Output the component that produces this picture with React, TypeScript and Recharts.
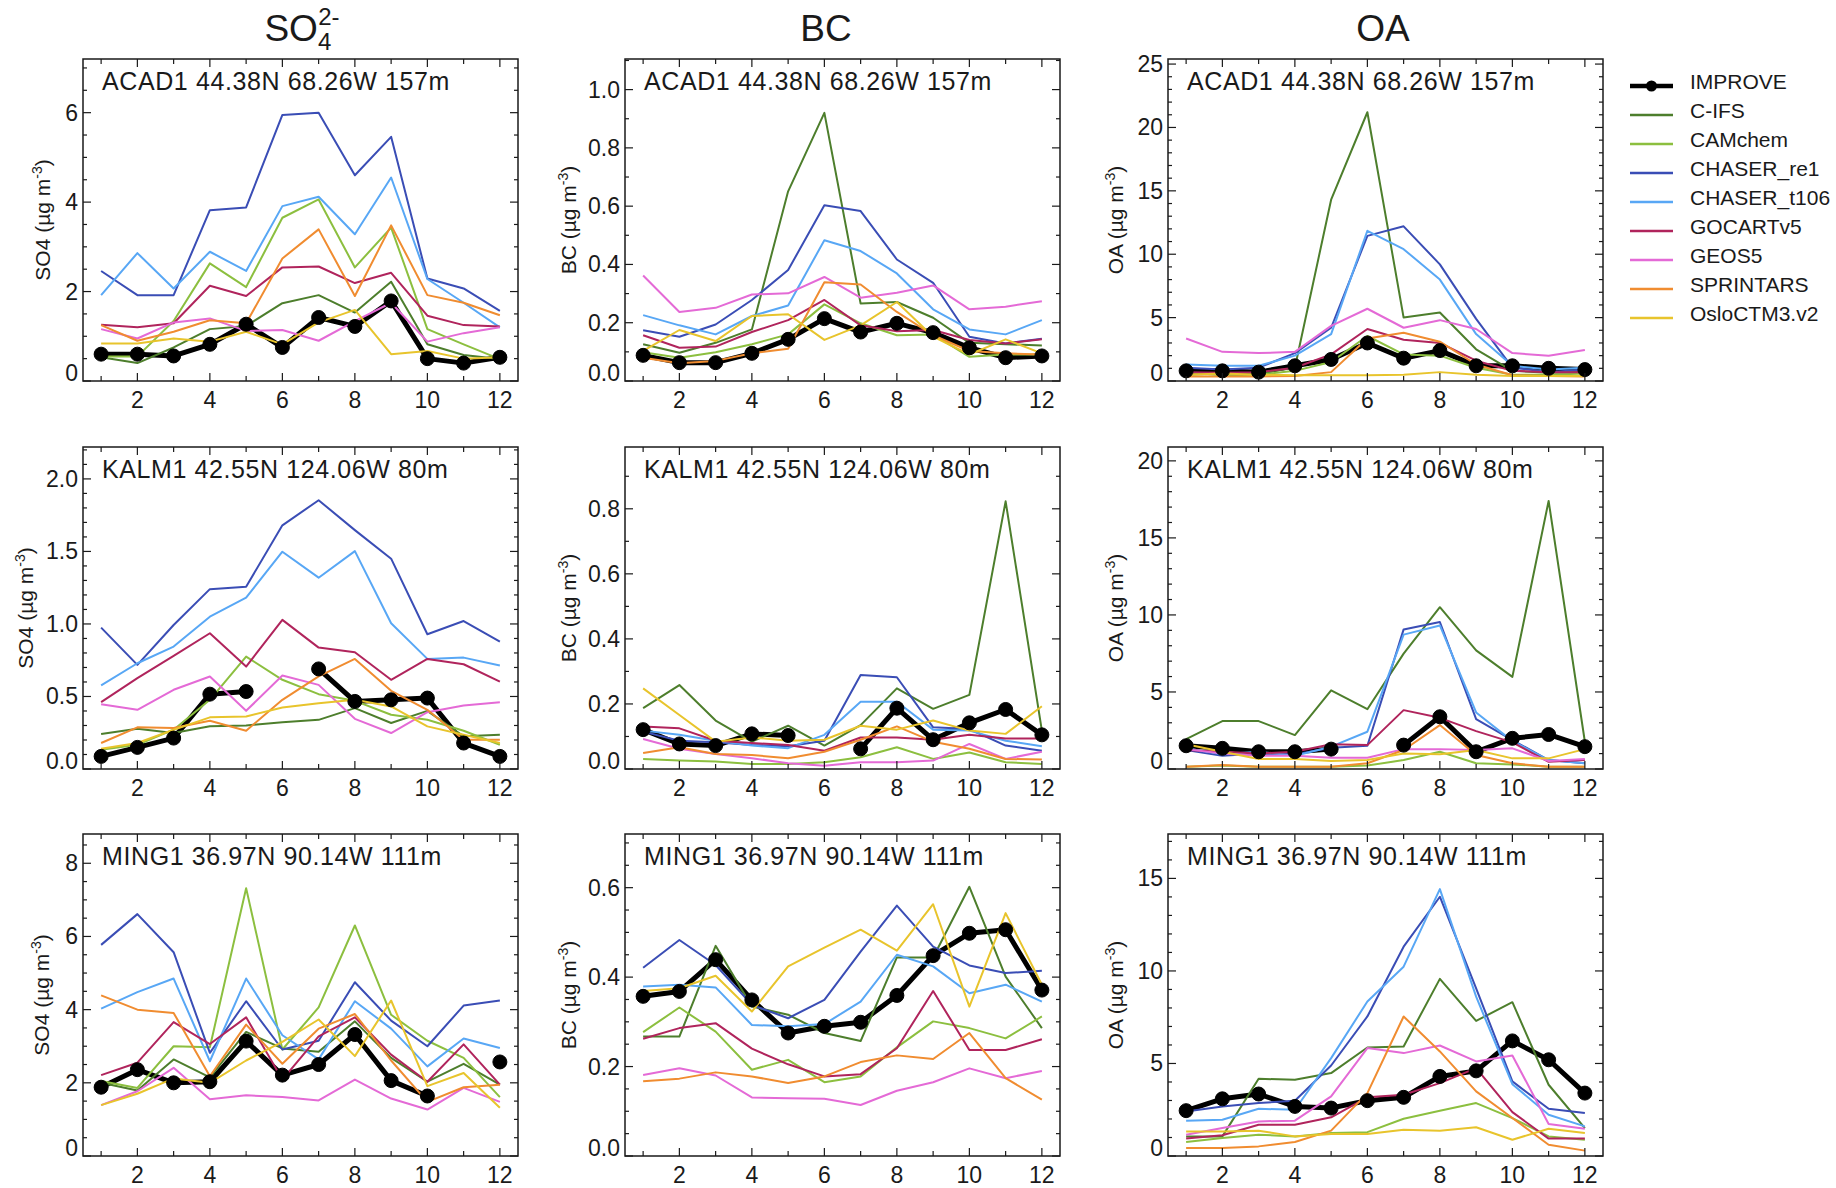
import React from "react";
import { LineChart, Line, XAxis, YAxis, ReferenceArea, Legend } from "recharts";

const MONTHS = [1, 2, 3, 4, 5, 6, 7, 8, 9, 10, 11, 12];

const SERIES = ["IMPROVE", "C-IFS", "CAMchem", "CHASER_re1", "CHASER_t106", "GOCARTv5", "GEOS5", "SPRINTARS", "OsloCTM3.v2"];
const COLORS = ["#000000", "#4d7e2c", "#8cbf3f", "#3a4db5", "#58a7f5", "#b0245c", "#e46ad6", "#f08c30", "#e8c42c"];

type Station = Record<string, (number | null)[]>;

const ACAD1_SO4: Station = {
  IMPROVE: [0.6, 0.6, 0.56, 0.82, 1.27, 0.75, 1.42, 1.22, 1.79, 0.5, 0.4, 0.53],
  "C-IFS": [0.53, 0.4, 0.75, 1.16, 1.23, 1.74, 1.92, 1.53, 2.22, 0.82, 0.58, 0.49],
  CAMchem: [0.55, 0.55, 1.34, 2.63, 2.1, 3.65, 4.06, 2.54, 3.43, 1.16, 0.82, 0.49],
  CHASER_re1: [2.46, 1.92, 1.92, 3.82, 3.88, 5.95, 6.0, 4.6, 5.46, 2.29, 2.07, 1.57],
  CHASER_t106: [1.92, 2.86, 2.07, 2.89, 2.46, 3.91, 4.12, 3.28, 4.55, 2.28, 1.75, 1.2],
  GOCARTv5: [1.26, 1.2, 1.29, 2.13, 1.9, 2.54, 2.56, 2.19, 2.42, 1.46, 1.25, 1.22],
  GEOS5: [1.16, 0.95, 1.31, 1.4, 1.12, 1.14, 0.9, 1.34, 1.75, 0.88, 1.07, 1.2],
  SPRINTARS: [1.25, 0.9, 1.1, 1.36, 1.29, 2.74, 3.39, 1.9, 3.48, 1.92, 1.75, 1.47],
  "OsloCTM3.v2": [0.84, 0.84, 0.95, 0.88, 1.1, 0.82, 1.31, 1.59, 0.6, 0.67, 0.5, 0.53],
};

const ACAD1_BC: Station = {
  IMPROVE: [0.088, 0.063, 0.063, 0.095, 0.143, 0.214, 0.168, 0.198, 0.166, 0.114, 0.08, 0.086],
  "C-IFS": [0.126, 0.097, 0.131, 0.177, 0.651, 0.92, 0.266, 0.271, 0.217, 0.131, 0.126, 0.122],
  CAMchem: [0.099, 0.08, 0.099, 0.126, 0.16, 0.263, 0.198, 0.157, 0.16, 0.083, 0.091, 0.091],
  CHASER_re1: [0.174, 0.152, 0.194, 0.278, 0.381, 0.603, 0.583, 0.417, 0.337, 0.152, 0.129, 0.145],
  CHASER_t106: [0.226, 0.191, 0.16, 0.223, 0.259, 0.483, 0.446, 0.369, 0.246, 0.177, 0.16, 0.209],
  GOCARTv5: [0.157, 0.114, 0.118, 0.168, 0.209, 0.278, 0.191, 0.171, 0.175, 0.141, 0.129, 0.143],
  GEOS5: [0.362, 0.237, 0.251, 0.297, 0.301, 0.357, 0.286, 0.303, 0.328, 0.246, 0.255, 0.274],
  SPRINTARS: [0.08, 0.061, 0.069, 0.095, 0.111, 0.339, 0.331, 0.237, 0.157, 0.103, 0.095, 0.091],
  "OsloCTM3.v2": [0.103, 0.175, 0.137, 0.223, 0.229, 0.141, 0.191, 0.271, 0.152, 0.091, 0.143, 0.095],
};

const ACAD1_OA: Station = {
  IMPROVE: [0.8, 0.8, 0.7, 1.2, 1.7, 3.0, 1.8, 2.4, 1.2, 1.2, 1.0, 0.9],
  "C-IFS": [0.5, 0.6, 0.6, 1.05, 14.3, 21.2, 5.0, 5.4, 2.5, 0.8, 0.65, 0.7],
  CAMchem: [0.65, 0.45, 0.5, 0.8, 1.5, 3.55, 2.1, 2.0, 1.05, 0.5, 0.5, 0.6],
  CHASER_re1: [1.05, 0.9, 1.05, 2.2, 4.2, 11.45, 12.2, 9.2, 4.9, 1.05, 0.7, 0.9],
  CHASER_t106: [1.3, 1.2, 1.2, 2.0, 3.7, 11.85, 10.4, 8.0, 3.7, 1.2, 0.9, 1.05],
  GOCARTv5: [0.7, 0.65, 0.7, 1.05, 2.1, 4.1, 3.25, 3.0, 1.6, 0.8, 0.7, 0.7],
  GEOS5: [3.35, 2.3, 2.2, 2.3, 4.35, 5.7, 4.2, 4.8, 4.1, 2.2, 2.0, 2.45],
  SPRINTARS: [0.35, 0.35, 0.35, 0.4, 0.7, 3.35, 3.8, 3.1, 1.3, 0.45, 0.4, 0.35],
  "OsloCTM3.v2": [0.5, 0.6, 0.5, 0.45, 0.45, 0.45, 0.5, 0.7, 0.5, 0.4, 0.4, 0.4],
};

const KALM1_SO4: Station = {
  IMPROVE: [0.087, 0.149, 0.213, 0.516, 0.534, null, 0.69, 0.466, 0.477, 0.489, 0.179, 0.087],
  "C-IFS": [0.241, 0.278, 0.248, 0.294, 0.3, 0.323, 0.339, 0.42, 0.317, 0.401, 0.225, 0.236],
  CAMchem: [0.133, 0.167, 0.271, 0.477, 0.775, 0.615, 0.516, 0.47, 0.374, 0.339, 0.264, 0.167],
  CHASER_re1: [0.975, 0.718, 0.993, 1.24, 1.257, 1.68, 1.853, 1.647, 1.45, 0.929, 1.02, 0.878],
  CHASER_t106: [0.576, 0.729, 0.844, 1.05, 1.181, 1.498, 1.319, 1.502, 1.005, 0.759, 0.768, 0.713],
  GOCARTv5: [0.461, 0.626, 0.78, 0.936, 0.706, 1.028, 0.837, 0.805, 0.615, 0.759, 0.722, 0.603],
  GEOS5: [0.447, 0.408, 0.546, 0.638, 0.401, 0.644, 0.58, 0.346, 0.248, 0.392, 0.438, 0.461],
  SPRINTARS: [0.179, 0.287, 0.282, 0.333, 0.264, 0.477, 0.638, 0.759, 0.539, 0.408, 0.202, 0.202],
  "OsloCTM3.v2": [0.14, 0.179, 0.271, 0.356, 0.362, 0.424, 0.454, 0.477, 0.431, 0.294, 0.236, 0.179],
};

const KALM1_BC: Station = {
  IMPROVE: [0.121, 0.077, 0.072, 0.108, 0.103, null, 0.062, 0.187, 0.09, 0.142, 0.183, 0.105],
  "C-IFS": [0.187, 0.258, 0.149, 0.084, 0.133, 0.072, 0.135, 0.248, 0.185, 0.228, 0.823, 0.118],
  CAMchem: [0.031, 0.026, 0.023, 0.015, 0.015, 0.021, 0.036, 0.067, 0.031, 0.051, 0.021, 0.015],
  CHASER_re1: [0.115, 0.087, 0.082, 0.074, 0.07, 0.087, 0.289, 0.282, 0.128, 0.123, 0.072, 0.056],
  CHASER_t106: [0.118, 0.105, 0.087, 0.072, 0.064, 0.105, 0.207, 0.207, 0.121, 0.118, 0.087, 0.07],
  GOCARTv5: [0.131, 0.125, 0.087, 0.08, 0.074, 0.056, 0.097, 0.097, 0.09, 0.105, 0.094, 0.094],
  GEOS5: [0.092, 0.062, 0.046, 0.033, 0.018, 0.01, 0.021, 0.021, 0.026, 0.077, 0.031, 0.053],
  SPRINTARS: [0.049, 0.067, 0.046, 0.043, 0.033, 0.053, 0.09, 0.131, 0.084, 0.062, 0.031, 0.029],
  "OsloCTM3.v2": [0.248, 0.166, 0.084, 0.097, 0.087, 0.09, 0.133, 0.121, 0.149, 0.118, 0.108, 0.193],
};

const KALM1_OA: Station = {
  IMPROVE: [1.51, 1.34, 1.12, 1.12, 1.29, null, 1.55, 3.39, 1.12, 1.99, 2.24, 1.45],
  "C-IFS": [1.94, 3.11, 3.11, 2.2, 5.11, 3.88, 7.49, 10.5, 7.7, 5.98, 17.4, 1.77],
  CAMchem: [0.15, 0.22, 0.15, 0.15, 0.15, 0.22, 0.58, 1.12, 0.37, 0.3, 0.15, 0.15],
  CHASER_re1: [1.23, 0.86, 1.01, 0.95, 1.38, 1.51, 9.06, 9.54, 3.24, 1.88, 0.58, 0.37],
  CHASER_t106: [1.34, 0.95, 1.12, 0.86, 1.45, 2.42, 8.72, 9.32, 3.67, 1.81, 0.58, 0.37],
  GOCARTv5: [1.23, 1.12, 1.01, 1.12, 1.6, 1.55, 3.82, 3.32, 2.46, 1.73, 0.47, 0.58],
  GEOS5: [1.29, 1.01, 0.86, 0.86, 0.73, 0.73, 1.29, 1.29, 1.23, 1.34, 0.52, 0.65],
  SPRINTARS: [0.15, 0.26, 0.15, 0.15, 0.15, 0.37, 1.23, 2.85, 0.91, 0.37, 0.15, 0.15],
  "OsloCTM3.v2": [1.6, 1.12, 0.65, 0.65, 0.52, 0.58, 1.01, 0.95, 1.23, 0.69, 0.69, 1.29],
};

const MING1_SO4: Station = {
  IMPROVE: [1.88, 2.36, 2.0, 2.03, 3.14, 2.21, 2.5, 3.32, 2.06, 1.64, null, 2.57],
  "C-IFS": [2.0, 1.79, 2.64, 2.15, 3.39, 2.94, 2.85, 3.68, 2.68, 2.03, 2.52, 1.95],
  CAMchem: [2.05, 1.86, 3.0, 2.97, 7.32, 2.91, 4.06, 6.3, 3.86, 3.15, 2.68, 1.61],
  CHASER_re1: [5.77, 6.61, 5.57, 2.82, 4.23, 2.91, 3.15, 4.75, 3.7, 3.0, 4.11, 4.25],
  CHASER_t106: [4.03, 4.48, 4.85, 2.59, 4.85, 3.3, 2.64, 4.23, 3.48, 2.45, 3.21, 2.95],
  GOCARTv5: [2.21, 2.55, 3.66, 3.06, 3.79, 2.09, 3.27, 3.79, 2.77, 2.03, 3.05, 1.95],
  GEOS5: [1.39, 1.77, 2.41, 1.55, 1.66, 1.61, 1.52, 2.09, 1.57, 1.27, 1.86, 1.48],
  SPRINTARS: [4.39, 4.0, 3.91, 2.18, 3.59, 2.52, 3.48, 3.88, 2.61, 1.48, 1.88, 1.95],
  "OsloCTM3.v2": [1.39, 1.7, 2.12, 2.0, 2.61, 3.12, 3.73, 2.73, 4.25, 1.91, 2.27, 1.32],
};

const MING1_BC: Station = {
  IMPROVE: [0.357, 0.368, 0.439, 0.349, 0.275, 0.29, 0.299, 0.359, 0.448, 0.498, 0.506, 0.371],
  "C-IFS": [0.267, 0.267, 0.47, 0.334, 0.316, 0.275, 0.257, 0.444, 0.444, 0.602, 0.401, 0.286],
  CAMchem: [0.277, 0.332, 0.278, 0.193, 0.215, 0.165, 0.178, 0.243, 0.301, 0.286, 0.263, 0.312],
  CHASER_re1: [0.421, 0.483, 0.427, 0.338, 0.308, 0.349, 0.457, 0.56, 0.468, 0.426, 0.409, 0.414],
  CHASER_t106: [0.379, 0.383, 0.377, 0.293, 0.29, 0.295, 0.345, 0.45, 0.424, 0.364, 0.383, 0.345],
  GOCARTv5: [0.262, 0.286, 0.297, 0.24, 0.205, 0.178, 0.183, 0.241, 0.369, 0.237, 0.237, 0.261],
  GEOS5: [0.181, 0.196, 0.18, 0.131, 0.129, 0.128, 0.114, 0.146, 0.165, 0.196, 0.174, 0.19],
  SPRINTARS: [0.167, 0.173, 0.187, 0.178, 0.163, 0.178, 0.21, 0.225, 0.217, 0.275, 0.174, 0.126],
  "OsloCTM3.v2": [0.369, 0.375, 0.403, 0.323, 0.424, 0.466, 0.506, 0.459, 0.563, 0.334, 0.543, 0.383],
};

const MING1_OA: Station = {
  IMPROVE: [2.45, 3.09, 3.35, 2.68, 2.59, 2.99, 3.17, 4.3, 4.6, 6.22, 5.2, 3.4],
  "C-IFS": [1.06, 1.06, 4.17, 4.12, 4.48, 5.86, 5.92, 9.57, 7.3, 8.31, 3.85, 1.51],
  CAMchem: [0.76, 0.97, 1.15, 1.06, 1.24, 1.29, 2.01, 2.45, 2.86, 2.05, 1.06, 0.88],
  CHASER_re1: [2.41, 2.68, 2.86, 2.99, 4.89, 7.54, 11.31, 14.01, 9.06, 4.03, 2.55, 2.32],
  CHASER_t106: [1.91, 1.96, 2.55, 2.5, 5.29, 8.35, 10.23, 14.42, 8.61, 3.88, 2.23, 1.6],
  GOCARTv5: [0.94, 1.12, 1.69, 1.69, 2.09, 3.17, 3.31, 3.94, 4.75, 2.37, 0.94, 0.94],
  GEOS5: [1.15, 1.51, 1.87, 1.91, 3.22, 5.83, 5.56, 5.97, 5.11, 5.43, 1.73, 1.47],
  SPRINTARS: [0.43, 0.43, 0.52, 0.76, 1.37, 3.4, 7.54, 5.65, 3.49, 2.05, 0.61, 0.29],
  "OsloCTM3.v2": [1.33, 1.33, 1.37, 1.06, 1.19, 1.19, 1.42, 1.37, 1.55, 0.88, 1.47, 1.24],
};

const SITES = ["ACAD1 44.38N 68.26W 157m", "KALM1 42.55N 124.06W 80m", "MING1 36.97N 90.14W 111m"];
const SPECIES = ["SO4", "BC", "OA"];

const FONT = "'Liberation Sans', Arial, Helvetica, sans-serif";
const INK = "#1a1a1a";
const PLOT_LEFT = [83, 625, 1168];
const PLOT_TOP = [59, 447, 834];
const PLOT_W = 435;
const PLOT_H = 322;
const Y_AXIS_W = 80;
const X_AXIS_H = 45;
const RIGHT_PAD = 3;

const PANELS = [
  { data: ACAD1_SO4, row: 0, col: 0, ymax: 7.2, major: 2, minor: 0.5, dec: 0, labelOff: 41 },
  { data: ACAD1_BC, row: 0, col: 1, ymax: 1.105, major: 0.2, minor: 0.1, dec: 1, labelOff: 57 },
  { data: ACAD1_OA, row: 0, col: 2, ymax: 25.4, major: 5, minor: 1, dec: 0, labelOff: 53 },
  { data: KALM1_SO4, row: 1, col: 0, ymax: 2.22, major: 0.5, minor: 0.1, dec: 1, labelOff: 58 },
  { data: KALM1_BC, row: 1, col: 1, ymax: 0.99, major: 0.2, minor: 0.1, dec: 1, labelOff: 57 },
  { data: KALM1_OA, row: 1, col: 2, ymax: 20.9, major: 5, minor: 1, dec: 0, labelOff: 53 },
  { data: MING1_SO4, row: 2, col: 0, ymax: 8.8, major: 2, minor: 0.5, dec: 0, labelOff: 42 },
  { data: MING1_BC, row: 2, col: 1, ymax: 0.72, major: 0.2, minor: 0.05, dec: 1, labelOff: 57 },
  { data: MING1_OA, row: 2, col: 2, ymax: 17.4, major: 5, minor: 1, dec: 0, labelOff: 53 },
];

const HEADER_DX = [219, 201, 215];

function XTick(props: any) {
  const { x, y, payload } = props;
  const v = payload.value;
  const major = v % 2 === 0;
  const len = major ? 8 : 5;
  return (
    <g>
      <line x1={x} x2={x} y1={y} y2={y - len} stroke={INK} strokeWidth={1.2} />
      <line x1={x} x2={x} y1={y - PLOT_H} y2={y - PLOT_H + len} stroke={INK} strokeWidth={1.2} />
      {major && (
        <text x={x} y={y + 27} textAnchor="middle" fontSize={23} fontFamily={FONT} fill={INK}>
          {v}
        </text>
      )}
    </g>
  );
}

function YTick(props: any) {
  const { x, y, payload, spec } = props;
  const v = payload.value;
  const r = v / spec.major;
  const major = Math.abs(r - Math.round(r)) < 1e-6;
  const len = major ? 8 : 4;
  return (
    <g>
      <line x1={x} x2={x + len} y1={y} y2={y} stroke={INK} strokeWidth={1.2} />
      <line x1={x + PLOT_W} x2={x + PLOT_W - len} y1={y} y2={y} stroke={INK} strokeWidth={1.2} />
      {major && (
        <text x={x - 5} y={y + (v === 0 ? 0 : 8)} textAnchor="end" fontSize={23} fontFamily={FONT} fill={INK}>
          {v.toFixed(spec.dec)}
        </text>
      )}
    </g>
  );
}

function Header({ col, x, y }: { col: number; x: number; y: number }) {
  if (col === 0) {
    return (
      <text x={x} y={y} textAnchor="middle" fontSize={37} fontFamily={FONT} fill={INK}>
        SO
        <tspan dy={9} fontSize={24}>4</tspan>
        <tspan dx={-13} dy={-25} fontSize={24}>2-</tspan>
      </text>
    );
  }
  return (
    <text x={x} y={y} textAnchor="middle" fontSize={37} fontFamily={FONT} fill={INK}>
      {col === 1 ? "BC" : "OA"}
    </text>
  );
}

function PanelText(props: any) {
  const { viewBox, spec } = props;
  if (!viewBox) return null;
  const { x, y, height } = viewBox;
  const lx = x - spec.labelOff + 8;
  const ly = y + height / 2;
  return (
    <g>
      <text x={x + 19} y={y + 31} fontSize={25} letterSpacing={0.6} fontFamily={FONT} fill={INK}>
        {SITES[spec.row]}
      </text>
      <text transform={`translate(${lx},${ly}) rotate(-90)`} textAnchor="middle" fontSize={21} fontFamily={FONT} fill={INK}>
        {SPECIES[spec.col]} (µg m<tspan dy={-8} fontSize={14}>-3</tspan>
        <tspan dy={8}>)</tspan>
      </text>
      {spec.row === 0 && <Header col={spec.col} x={x + HEADER_DX[spec.col]} y={y - 18} />}
    </g>
  );
}

function LegendContent(props: any) {
  const items = [...(props.payload || [])].sort(
    (a: any, b: any) => SERIES.indexOf(a.value) - SERIES.indexOf(b.value)
  );
  return (
    <div>
      {items.map((it: any) => {
        const obs = it.value === "IMPROVE";
        return (
          <div key={it.value} style={{ display: "flex", alignItems: "center", height: 29 }}>
            <svg width={43} height={29} style={{ display: "block" }}>
              <line x1={0} x2={43} y1={19} y2={19} stroke={it.color} strokeWidth={obs ? 4.5 : 2.5} />
              {obs && <circle cx={21.5} cy={19} r={5.5} fill="#000" />}
            </svg>
            <span style={{ marginLeft: 17, fontSize: 21, fontFamily: FONT, color: INK, lineHeight: "29px", whiteSpace: "nowrap" }}>
              {it.value}
            </span>
          </div>
        );
      })}
    </div>
  );
}

function Panel({ spec }: { spec: any }) {
  const rows = MONTHS.map((m, i) => {
    const r: any = { month: m };
    SERIES.forEach((s) => (r[s] = spec.data[s][i]));
    return r;
  });
  const yTicks: number[] = [];
  for (let k = 0; k * spec.minor <= spec.ymax + 1e-9; k++) yTicks.push(+(k * spec.minor).toFixed(4));
  const marginTop = spec.row === 0 ? PLOT_TOP[0] : 4;
  const chartTop = PLOT_TOP[spec.row] - marginTop;
  const chartLeft = PLOT_LEFT[spec.col] - Y_AXIS_W;
  const w = Y_AXIS_W + PLOT_W + RIGHT_PAD;
  const h = marginTop + PLOT_H + X_AXIS_H;
  const withLegend = spec.row === 0 && spec.col === 2;

  return (
    <div style={{ position: "absolute", left: chartLeft, top: chartTop }}>
      <LineChart width={w} height={h} data={rows} margin={{ top: marginTop, right: RIGHT_PAD, left: 0, bottom: 0 }}>
        <XAxis
          dataKey="month"
          type="number"
          domain={[0.5, 12.5]}
          ticks={MONTHS}
          interval={0}
          tickSize={0}
          tickMargin={0}
          tickLine={false}
          axisLine={false}
          height={X_AXIS_H}
          allowDataOverflow
          tick={(p: any) => <XTick {...p} />}
        />
        <YAxis
          type="number"
          domain={[0, spec.ymax]}
          ticks={yTicks}
          interval={0}
          tickSize={0}
          tickMargin={0}
          tickLine={false}
          axisLine={false}
          width={Y_AXIS_W}
          allowDataOverflow
          tick={(p: any) => <YTick {...p} spec={spec} />}
        />
        <ReferenceArea
          x1={0.5}
          x2={12.5}
          y1={0}
          y2={spec.ymax}
          fill="none"
          stroke={INK}
          strokeWidth={1.5}
          label={<PanelText spec={spec} />}
        />
        {SERIES.map((s, i) => (
          <Line
            key={s}
            dataKey={s}
            name={s}
            type="linear"
            stroke={COLORS[i]}
            strokeWidth={i === 0 ? 5 : 2}
            strokeLinejoin="round"
            dot={i === 0 ? { r: 7, fill: "#000", stroke: "#000", strokeWidth: 1 } : false}
            activeDot={false}
            connectNulls={false}
            isAnimationActive={false}
          />
        ))}
        {withLegend && (
          <Legend
            layout="vertical"
            align="center"
            verticalAlign="middle"
            wrapperStyle={{ left: 542, top: 67, width: 240 }}
            content={LegendContent}
          />
        )}
      </LineChart>
    </div>
  );
}

export default function App() {
  return (
    <div style={{ position: "absolute", left: 0, top: 0, width: 1836, height: 1188, background: "#fff" }}>
      {PANELS.map((p, i) => (
        <Panel key={i} spec={p} />
      ))}
    </div>
  );
}
